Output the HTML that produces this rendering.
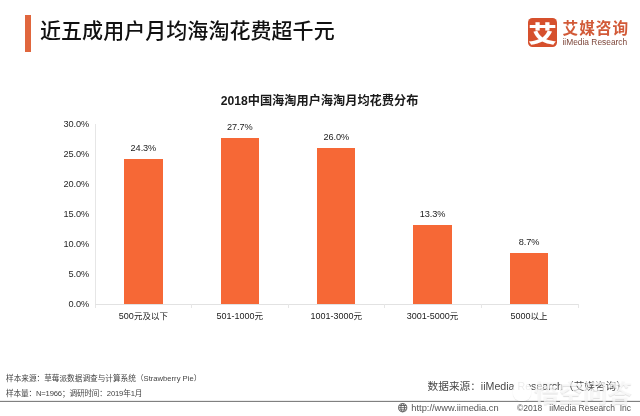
<!DOCTYPE html>
<html lang="zh-CN">
<head>
<meta charset="utf-8">
<title>近五成用户月均海淘花费超千元</title>
<style>
html,body{margin:0;padding:0;background:#fff;}
body{width:640px;height:416px;overflow:hidden;position:relative;
  font-family:"Liberation Sans","Noto Sans CJK SC",sans-serif;color:#222;}
#page{position:absolute;left:0;top:0;width:640px;height:416px;overflow:hidden;will-change:transform;}
.abs{position:absolute;white-space:nowrap;line-height:1;}
#accent{left:25px;top:15px;width:6px;height:37px;background:#e0663d;}
#title{left:40px;top:19px;font-size:21px;font-weight:500;color:#111;line-height:24px;letter-spacing:0.05px;}
#logo{left:528px;top:18px;width:29px;height:29px;border-radius:4.5px;background:#d6502d;overflow:hidden;}
#logo span{position:absolute;left:0;top:0;width:29px;height:29px;text-align:center;color:#fff;
  font-family:"Noto Sans CJK SC",sans-serif;font-weight:900;font-size:25.5px;line-height:29px;transform:translateY(-0.7px) scale(1.12,0.88);}
#brand{left:562.5px;top:20px;font-size:15.7px;font-weight:700;color:#d25a38;letter-spacing:0.95px;line-height:18px;}
#brand2{left:562.5px;top:37.3px;font-size:8.4px;color:#7d463a;line-height:10px;}
#ctitle{left:220px;top:94px;width:199px;text-align:center;font-size:12.2px;font-weight:700;color:#1a1a1a;line-height:14px;}
.yl{left:50px;width:39px;text-align:right;font-size:9.2px;letter-spacing:-0.1px;color:#262626;line-height:10px;}
#yaxis{left:94.8px;top:124px;width:1px;height:184px;background:#e6e6e6;}
#xaxis{left:94.8px;top:303.8px;width:484px;height:1px;background:#e2e2e2;}
.tick{top:304px;width:1px;height:4px;background:#e6e6e6;}
.bar{width:38.4px;background:#f66836;}
.dl{width:60px;text-align:center;font-size:9.2px;letter-spacing:-0.1px;color:#1c1c1c;line-height:10px;}
.xl{width:90px;text-align:center;font-size:9px;color:#1a1a1a;line-height:10px;top:311px;}
.xl b{font-weight:400;font-size:8.5px;}
.foot{left:6px;font-size:7.65px;color:#444;line-height:9px;}
#src{left:427.6px;top:379.5px;font-size:10.65px;color:#484848;line-height:13px;}
#hr{left:0;top:401px;width:640px;height:1px;background:#808080;}
#hr2{left:0;top:400px;width:640px;height:1px;background:#ececec;}
.bot{top:403px;font-size:9.3px;color:#555;line-height:10px;}
#cp{top:402.8px;font-size:8.5px;}
#wm{left:534px;top:378.6px;font-size:24.5px;font-weight:700;line-height:26px;color:rgba(255,255,255,0.72);
  font-family:"Noto Sans CJK SC",sans-serif;text-shadow:0 0.5px 1px rgba(0,0,0,0.13);}
#wmi{left:513px;top:381px;width:18px;height:20px;border-radius:9px 9px 8px 8px;background:rgba(255,255,255,0.9);box-shadow:0 0.5px 1px rgba(0,0,0,0.15);}
</style>
</head>
<body>
<div id="page">
<div class="abs" id="accent"></div>
<div class="abs" id="title">近五成用户月均海淘花费超千元</div>

<div class="abs" id="logo"><span>艾</span></div>
<div class="abs" id="brand">艾媒咨询</div>
<div class="abs" id="brand2">iiMedia Research</div>

<div class="abs" id="ctitle">2018中国海淘用户海淘月均花费分布</div>

<div class="abs yl" style="top:118.7px">30.0%</div>
<div class="abs yl" style="top:148.7px">25.0%</div>
<div class="abs yl" style="top:178.7px">20.0%</div>
<div class="abs yl" style="top:208.7px">15.0%</div>
<div class="abs yl" style="top:238.7px">10.0%</div>
<div class="abs yl" style="top:268.7px">5.0%</div>
<div class="abs yl" style="top:298.7px">0.0%</div>

<div class="abs" id="yaxis"></div>
<div class="abs" id="xaxis"></div>
<div class="abs tick" style="left:191px"></div>
<div class="abs tick" style="left:288px"></div>
<div class="abs tick" style="left:384px"></div>
<div class="abs tick" style="left:481px"></div>
<div class="abs tick" style="left:578px"></div>

<div class="abs bar" style="left:124.2px;top:159.0px;height:145.0px"></div>
<div class="abs bar" style="left:220.6px;top:138.0px;height:166.0px"></div>
<div class="abs bar" style="left:317.1px;top:148.0px;height:156.0px"></div>
<div class="abs bar" style="left:413.4px;top:224.5px;height:79.5px"></div>
<div class="abs bar" style="left:509.8px;top:252.6px;height:51.4px"></div>

<div class="abs dl" style="left:113.4px;top:143.0px">24.3%</div>
<div class="abs dl" style="left:209.8px;top:122.0px">27.7%</div>
<div class="abs dl" style="left:306.3px;top:132.0px">26.0%</div>
<div class="abs dl" style="left:402.6px;top:208.5px">13.3%</div>
<div class="abs dl" style="left:499.0px;top:236.6px">8.7%</div>

<div class="abs xl" style="left:98.4px">500<b>元及以下</b></div>
<div class="abs xl" style="left:194.8px">501-1000<b>元</b></div>
<div class="abs xl" style="left:291.3px">1001-3000<b>元</b></div>
<div class="abs xl" style="left:387.6px">3001-5000<b>元</b></div>
<div class="abs xl" style="left:484.0px">5000<b>以上</b></div>

<div class="abs foot" style="top:374px">样本来源：草莓派数据调查与计算系统（Strawberry Pie）</div>
<div class="abs foot" style="top:389px;letter-spacing:-0.16px">样本量：N=1966；调研时间：2019年1月</div>

<div class="abs" id="src">数据来源：iiMedia Research（艾媒咨询）</div>

<div class="abs" id="hr2"></div>
<div class="abs" id="hr"></div>

<svg class="abs" style="left:398.2px;top:403.3px" width="9.4" height="9.4" viewBox="0 0 16 16" fill="none" stroke="#555" stroke-width="1.5">
<circle cx="8" cy="8" r="7"/><ellipse cx="8" cy="8" rx="3.2" ry="7"/><path d="M1 8h14M2.2 4.3h11.6M2.2 11.7h11.6"/>
</svg>
<div class="abs bot" style="left:411.3px">http://www.iimedia.cn</div>
<div class="abs bot" id="cp" style="left:517px">©2018&nbsp;&nbsp; iiMedia Research&nbsp; Inc</div>
<div class="abs" id="wmi"></div>
<div class="abs" id="wm">悟空问答</div>
</div>
</body>
</html>
